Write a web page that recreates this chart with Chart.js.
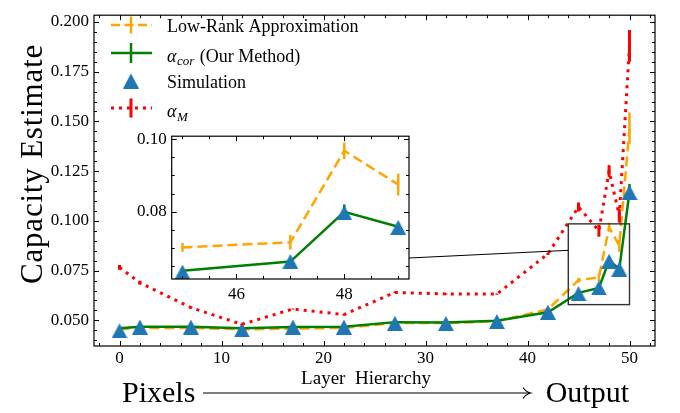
<!DOCTYPE html>
<html>
<head>
<meta charset="utf-8">
<script src="https://cdn.jsdelivr.net/npm/chart.js@4.4.0/dist/chart.umd.min.js"></script>
<style>
  html, body { margin: 0; padding: 0; background: #fff; }
  #wrap { position: relative; width: 680px; height: 413px; }
  #main { position: absolute; left: 0; top: 0; }
  #inset { position: absolute; left: 121px; top: 121px; }
</style>
</head>
<body>
<div id="wrap">
  <canvas id="main" width="680" height="413"></canvas>
  <canvas id="inset" width="300" height="190"></canvas>
</div>
<script>
// values
const layers = [0, 2, 7, 12, 17, 22, 27, 32, 37, 42, 45, 47, 48, 49, 50];
const lowRank = [0.0455, 0.0462, 0.0462, 0.0455, 0.0458, 0.0462, 0.0486, 0.0486, 0.0495, 0.0555, 0.0702, 0.0716, 0.0968, 0.0875, 0.1465];
const lowRankErr = [0.0003, 0.0003, 0.0003, 0.0003, 0.0003, 0.0003, 0.0003, 0.0003, 0.0003, 0.0005, 0.0012, 0.0020, 0.0023, 0.0030, 0.0080];
const alphaCor = [0.0460, 0.0468, 0.0468, 0.0460, 0.0467, 0.0468, 0.0491, 0.0489, 0.0498, 0.0541, 0.0638, 0.0663, 0.0800, 0.0759, 0.1145];
const alphaCorErr = [0.0002, 0.0002, 0.0002, 0.0002, 0.0002, 0.0002, 0.0002, 0.0002, 0.0002, 0.0004, 0.0008, 0.0008, 0.0020, 0.0010, 0.0040];
const simulation = [0.0447, 0.0466, 0.0466, 0.0452, 0.0466, 0.0466, 0.0485, 0.0484, 0.0494, 0.0541, 0.0634, 0.0663, 0.0797, 0.0757, 0.1143];
const alphaM = [0.0766, 0.0689, 0.0564, 0.0480, 0.0557, 0.0529, 0.0640, 0.0633, 0.0632, 0.0834, 0.1070, 0.0950, 0.1250, 0.1027, 0.1880];
const alphaMErr = [0.0012, 0.0010, 0.0004, 0.0003, 0.0003, 0.0003, 0.0003, 0.0003, 0.0003, 0.0005, 0.0023, 0.0030, 0.0030, 0.0035, 0.0080];

const xTicks = [0, 10, 20, 30, 40, 50];
const yTicks = [0.050, 0.075, 0.100, 0.125, 0.150, 0.175, 0.200];
const insetXTicks = [46, 48];
const insetYTicks = [0.08, 0.10];
const insetLayers = [45, 47, 48, 49];   // layers shown in the zoomed panel

const ORANGE = '#ffa500', GREEN = '#008000', BLUE = '#1f77b4', RED = '#ff0000';
const SERIF = '"Liberation Serif", "DejaVu Serif", serif';

Chart.defaults.font.family = SERIF;
Chart.defaults.color = '#000';

// matplotlib-like '^' marker
const tri = document.createElement('canvas');
tri.width = 16; tri.height = 15;
const tc = tri.getContext('2d');
tc.fillStyle = BLUE;
tc.beginPath(); tc.moveTo(8, 0); tc.lineTo(16, 15); tc.lineTo(0, 15); tc.closePath(); tc.fill();

function pick(arr, keep) {
  return layers.map((l, i) => ({ x: l, y: arr[i] })).filter(p => !keep || keep.includes(p.x));
}
function pickErr(err, keep) {
  return err.filter((e, i) => !keep || keep.includes(layers[i]));
}

function makeDatasets(withAlphaM, keep, clip) {
  const sets = [
    { data: pick(lowRank, keep), errors: pickErr(lowRankErr, keep), borderColor: ORANGE, borderWidth: 2.5,
      borderDash: [10, 5], pointRadius: 0, order: 4, errWidth: 2.5, clip: clip },
    { data: pick(alphaCor, keep), errors: pickErr(alphaCorErr, keep), borderColor: GREEN, borderWidth: 2.5,
      pointRadius: 0, order: 3, errWidth: 2.5, clip: clip },
    { data: pick(simulation, keep), showLine: false, pointStyle: tri, pointRadius: 8,
      borderColor: BLUE, order: 2, clip: clip }
  ];
  if (withAlphaM) {
    sets.push({ data: pick(alphaM, keep), errors: pickErr(alphaMErr, keep), borderColor: RED, borderWidth: 3,
      borderDash: [3, 5], pointRadius: 0, order: 1, errWidth: 3, clip: clip });
  }
  return sets;
}

// vertical error bars, drawn right after their own line
const errorBars = {
  id: 'errorBars',
  afterDatasetDraw(chart, args) {
    const ds = chart.data.datasets[args.index];
    if (!ds.errors) return;
    const { ctx, chartArea: a, scales: { x, y } } = chart;
    ctx.save();
    ctx.beginPath(); ctx.rect(a.left, a.top, a.width, a.height); ctx.clip();
    ctx.strokeStyle = ds.borderColor;
    ctx.lineWidth = ds.errWidth;
    ctx.setLineDash([]);
    ds.data.forEach((p, i) => {
      const px = x.getPixelForValue(p.x);
      ctx.beginPath();
      ctx.moveTo(px, y.getPixelForValue(p.y - ds.errors[i]));
      ctx.lineTo(px, y.getPixelForValue(p.y + ds.errors[i]));
      ctx.stroke();
    });
    ctx.restore();
  }
};

// frame + inward ticks on all four sides
const frameTicks = {
  id: 'frameTicks',
  beforeDatasetsDraw(chart, args, o) {
    if (!o.fill) return;
    const { ctx, chartArea: a } = chart;
    ctx.save(); ctx.fillStyle = '#fff';
    ctx.fillRect(a.left, a.top, a.width, a.height);
    ctx.restore();
  },
  afterDraw(chart, args, o) {
    const { ctx, chartArea: a, scales: { x, y } } = chart;
    ctx.save();
    ctx.strokeStyle = '#000';
    ctx.lineWidth = 1;
    const seg = (x1, y1, x2, y2) => { ctx.beginPath(); ctx.moveTo(x1, y1); ctx.lineTo(x2, y2); ctx.stroke(); };
    const isMajor = (list, v) => list.some(m => Math.abs(m - v) < 1e-9);
    for (let n = Math.ceil(x.min / o.xStep - 1e-9); n * o.xStep <= x.max + 1e-9; n++) {
      const v = n * o.xStep, len = isMajor(o.xMajor, v) ? 5 : 3;
      const px = Math.round(x.getPixelForValue(v)) + 0.5;
      seg(px, a.bottom, px, a.bottom - len);
      seg(px, a.top, px, a.top + len);
    }
    for (let n = Math.ceil(y.min / o.yStep - 1e-9); n * o.yStep <= y.max + 1e-9; n++) {
      const v = n * o.yStep, len = isMajor(o.yMajor, v) ? 5 : 3;
      const py = Math.round(y.getPixelForValue(v)) + 0.5;
      seg(a.left, py, a.left + len, py);
      seg(a.right, py, a.right - len, py);
    }
    ctx.lineWidth = 1.2;
    ctx.strokeRect(a.left, a.top, a.width, a.height);
    ctx.restore();
  }
};

// zoom box, connector, legend and the axis texts of the main panel
const mainDecor = {
  id: 'mainDecor',
  afterDatasetsDraw(chart) {
    const { ctx, scales: { x, y } } = chart;
    ctx.save();
    ctx.strokeStyle = '#333';
    ctx.lineWidth = 1.4;
    const x0 = x.getPixelForValue(44), x1 = x.getPixelForValue(50);
    const y0 = y.getPixelForValue(0.0985), y1 = y.getPixelForValue(0.0579);
    ctx.strokeRect(x0, y0, x1 - x0, y1 - y0);
    ctx.strokeStyle = '#000';
    ctx.lineWidth = 1;
    ctx.beginPath();
    ctx.moveTo(409, 258);
    ctx.lineTo(x0, y.getPixelForValue(0.0852));
    ctx.stroke();
    ctx.restore();
  },
  afterDraw(chart) {
    const ctx = chart.ctx;
    ctx.save();
    // legend
    const lx0 = 111, lx1 = 152, lxc = 131, tx = 167;
    const bar = (yc, h, col, w) => {
      ctx.setLineDash([]); ctx.strokeStyle = col; ctx.lineWidth = w;
      ctx.beginPath(); ctx.moveTo(lxc, yc - h); ctx.lineTo(lxc, yc + h); ctx.stroke();
    };
    const sample = (yc, col, w, dash) => {
      ctx.strokeStyle = col; ctx.lineWidth = w; ctx.setLineDash(dash);
      ctx.beginPath(); ctx.moveTo(lx0, yc); ctx.lineTo(lx1, yc); ctx.stroke();
    };
    sample(25, ORANGE, 2.5, [9, 4.5]); bar(25, 8.5, ORANGE, 2.5);
    sample(53, GREEN, 2.5, []); bar(53, 10, GREEN, 2.5);
    ctx.drawImage(tri, lxc - 8, 81 - 7.5);
    sample(108, RED, 3, [3, 5]); bar(108, 9.5, RED, 3);

    ctx.setLineDash([]);
    ctx.fillStyle = '#000';
    ctx.textAlign = 'left';
    ctx.textBaseline = 'alphabetic';
    ctx.font = '18px ' + SERIF;
    ctx.fillText('Low-Rank Approximation', tx, 31.5);
    ctx.fillText('Simulation', tx, 88);
    const greek = (label, sub, base) => {
      ctx.font = 'italic 18px ' + SERIF;
      ctx.fillText(label, tx, base);
      const w = ctx.measureText(label).width;
      ctx.font = 'italic 13px ' + SERIF;
      ctx.fillText(sub, tx + w + 0.5, base + 3.5);
      return tx + w + 0.5 + ctx.measureText(sub).width;
    };
    const end = greek('\u03b1', 'cor', 61.5);
    ctx.font = '18px ' + SERIF;
    ctx.fillText(' (Our Method)', end + 1, 61.5);
    greek('\u03b1', 'M', 117);

    // axis texts
    ctx.save();
    ctx.translate(42, 164);
    ctx.rotate(-Math.PI / 2);
    ctx.textAlign = 'center';
    ctx.font = '31px ' + SERIF;
    ctx.letterSpacing = '0.8px';
    ctx.fillText('Capacity Estimate', 0, 0);
    ctx.restore();

    ctx.textAlign = 'center';
    ctx.font = '19px ' + SERIF;
    ctx.fillText('Layer  Hierarchy', 366, 384);

    ctx.font = '30px ' + SERIF;
    ctx.textAlign = 'left';
    ctx.fillText('Pixels', 122, 402);
    ctx.textAlign = 'right';
    ctx.fillText('Output', 629, 402);

    ctx.strokeStyle = '#000';
    ctx.lineWidth = 1.2;
    ctx.beginPath(); ctx.moveTo(203, 393); ctx.lineTo(530, 393); ctx.stroke();
    ctx.beginPath();
    ctx.moveTo(523, 387.5); ctx.quadraticCurveTo(526, 392, 530.5, 393); ctx.quadraticCurveTo(526, 394, 523, 398.5);
    ctx.stroke();
    ctx.restore();
  }
};

const setTicks = list => scale => { scale.ticks = list.map(v => ({ value: v })); };

new Chart(document.getElementById('main'), {
  type: 'line',
  data: { datasets: makeDatasets(true, null, undefined) },
  options: {
    responsive: false,
    animation: false,
    layout: { padding: { left: 0, right: 25, top: 2, bottom: 0 } },
    plugins: {
      legend: { display: false },
      tooltip: { enabled: false },
      frameTicks: { xStep: 2, xMajor: xTicks, yStep: 0.005, yMajor: yTicks }
    },
    scales: {
      x: {
        type: 'linear', min: -2.5, max: 52.5,
        afterBuildTicks: setTicks(xTicks),
        afterFit: s => { s.height = 67; },
        grid: { display: false, drawTicks: false },
        border: { display: false },
        ticks: { font: { size: 17 }, padding: 2, maxRotation: 0, callback: v => String(v) }
      },
      y: {
        min: 0.0371, max: 0.2034,
        afterBuildTicks: setTicks(yTicks),
        afterFit: s => { s.width = 94; },
        grid: { display: false, drawTicks: false },
        border: { display: false },
        ticks: { font: { size: 17 }, padding: 5, callback: v => v.toFixed(3) }
      }
    }
  },
  plugins: [errorBars, frameTicks, mainDecor]
});

new Chart(document.getElementById('inset'), {
  type: 'line',
  data: { datasets: makeDatasets(false, insetLayers, 0) },
  options: {
    responsive: false,
    animation: false,
    layout: { padding: { left: 0, right: 12, top: 10, bottom: 0 } },
    plugins: {
      legend: { display: false },
      tooltip: { enabled: false },
      frameTicks: { fill: true, xStep: 0.5, xMajor: insetXTicks, yStep: 0.005, yMajor: insetYTicks }
    },
    scales: {
      x: {
        type: 'linear', min: 44.8, max: 49.2,
        afterBuildTicks: setTicks(insetXTicks),
        afterFit: s => { s.height = 32; },
        grid: { display: false, drawTicks: false },
        border: { display: false },
        ticks: { font: { size: 17 }, padding: 5, maxRotation: 0, callback: v => String(v) }
      },
      y: {
        min: 0.0615, max: 0.1008,
        afterBuildTicks: setTicks(insetYTicks),
        afterFit: s => { s.width = 50.7; },
        grid: { display: false, drawTicks: false },
        border: { display: false },
        ticks: { font: { size: 17 }, padding: 5, callback: v => v.toFixed(2) }
      }
    }
  },
  plugins: [errorBars, frameTicks]
});
</script>
</body>
</html>
